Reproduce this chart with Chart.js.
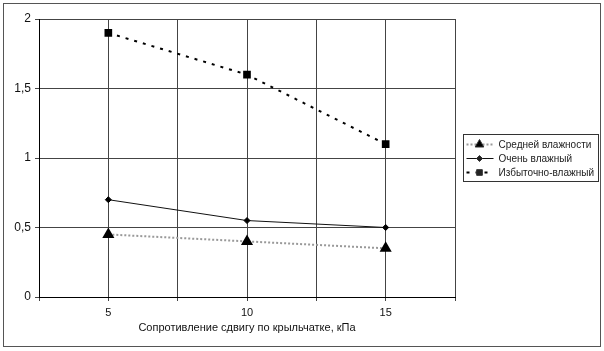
<!DOCTYPE html>
<html>
<head>
<meta charset="utf-8">
<script src="https://cdn.jsdelivr.net/npm/chart.js@4/dist/chart.umd.min.js"></script>
<style>
  html, body { margin: 0; padding: 0; background: #fff; }
  #wrap { width: 604px; height: 351px; position: relative; }
</style>
</head>
<body>
<div id="wrap"><canvas id="chart"></canvas></div>
<script>
const shearValues = [5, 10, 15];
const mediumMoist = [0.45, 0.40, 0.35];
const veryMoist = [0.70, 0.55, 0.50];
const excessMoist = [1.90, 1.60, 1.10];
const seriesNames = ['Средней влажности', 'Очень влажный', 'Избыточно-влажный'];
const xLabelTicks = [5, 10, 15];
const xTitle = 'Сопротивление сдвигу по крыльчатке, кПа';

const toPoints = vals => vals.map((v, i) => ({ x: shearValues[i], y: v }));

// border round the whole picture + legend box
const frame = {
    id: 'frame',
    afterDraw(chart) {
        const ctx = chart.ctx;
        ctx.save();
        ctx.strokeStyle = '#555';
        ctx.lineWidth = 1;
        ctx.strokeRect(3.5, 3.5, 597, 343);

        const bx = 463.5, by = 134.5;
        ctx.strokeStyle = '#333';
        ctx.strokeRect(bx, by, 135, 47);
        ctx.font = '10px Arial, "Liberation Sans", sans-serif';
        ctx.textBaseline = 'middle';
        chart.data.datasets.forEach((ds, i) => {
            const y = by + 10 + i * 14;
            ctx.save();
            ctx.strokeStyle = ds.borderColor;
            ctx.lineWidth = ds.borderWidth;
            ctx.setLineDash(ds.borderDash || []);
            ctx.beginPath();
            ctx.moveTo(bx + 3, y);
            ctx.lineTo(bx + 30, y);
            ctx.stroke();
            ctx.restore();
            Chart.helpers.drawPoint(ctx, {
                pointStyle: ds.pointStyle,
                radius: ds.pointRadius,
                rotation: ds.pointRotation || 0,
                borderWidth: 1
            }, bx + 16, y);
            ctx.fillStyle = '#222';
            ctx.fillText(ds.label, bx + 35, y + 0.5);
        });
        ctx.restore();
    }
};

Chart.defaults.font.family = 'Arial, "Liberation Sans", sans-serif';
Chart.defaults.font.size = 11;
Chart.defaults.color = '#111';

new Chart(document.getElementById('chart'), {
    type: 'scatter',
    data: {
        datasets: [{
            label: seriesNames[0],
            data: toPoints(mediumMoist),
            showLine: true,
            borderColor: '#999',
            borderWidth: 2,
            borderDash: [2, 2],
            pointStyle: 'triangle',
            pointRadius: 5,
            pointBackgroundColor: '#000',
            pointBorderColor: '#000'
        }, {
            label: seriesNames[1],
            data: toPoints(veryMoist),
            showLine: true,
            borderColor: '#111',
            borderWidth: 1,
            pointStyle: 'rectRot',
            pointRadius: 3,
            pointBackgroundColor: '#000',
            pointBorderColor: '#000'
        }, {
            label: seriesNames[2],
            data: toPoints(excessMoist),
            showLine: true,
            borderColor: '#000',
            borderWidth: 2,
            borderDash: [3, 6],
            pointStyle: 'rect',
            pointRadius: 4,
            pointBackgroundColor: '#000',
            pointBorderColor: '#000'
        }]
    },
    options: {
        responsive: true,
        maintainAspectRatio: false,
        animation: false,
        layout: { padding: { left: 0, right: 149, top: 19, bottom: 16 } },
        plugins: {
            legend: { display: false },
            tooltip: { enabled: false }
        },
        scales: {
            x: {
                type: 'linear',
                min: 2.5,
                max: 17.5,
                border: { color: '#000', width: 1 },
                grid: { color: '#444', lineWidth: 1, tickLength: 4, drawOnChartArea: true },
                ticks: {
                    stepSize: 2.5,
                    padding: 5,
                    maxRotation: 0,
                    autoSkip: false,
                    callback: v => xLabelTicks.includes(v) ? String(v) : ''
                },
                title: { display: true, text: xTitle, padding: { top: 2, bottom: 0 } },
                afterFit: s => { s.height = 38; }
            },
            y: {
                min: 0,
                max: 2,
                border: { color: '#000', width: 1 },
                grid: { color: '#444', lineWidth: 1, tickLength: 4 },
                ticks: {
                    stepSize: 0.5,
                    padding: 4,
                    font: { size: 12 },
                    callback: v => String(v).replace('.', ',')
                },
                afterFit: s => { s.width = 39; }
            }
        }
    },
    plugins: [frame]
});
</script>
</body>
</html>
